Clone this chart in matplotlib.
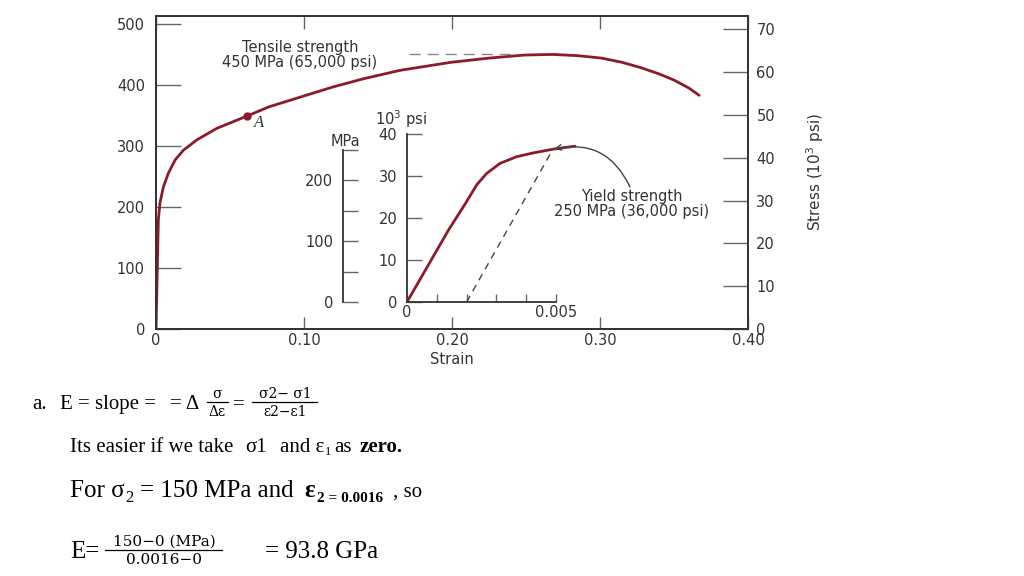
import numpy as np
import matplotlib.pyplot as plt
from matplotlib.lines import Line2D

W, H = 1024, 576

# Main stress-strain curve (strain, MPa)
strain_main = [0, 0.0008, 0.0016, 0.0027, 0.005, 0.0083, 0.0129, 0.0185, 0.0276, 0.0412,
               0.0615, 0.0762, 0.10, 0.12, 0.14, 0.165, 0.199, 0.225, 0.249, 0.268,
               0.285, 0.301, 0.315, 0.328, 0.340, 0.350, 0.360, 0.367]
stress_main = [0, 90, 179, 207, 233, 255, 277, 293, 310, 329,
               349, 364, 382, 397, 410, 424, 437, 444, 449, 450,
               448, 444, 437, 428, 418, 408, 395, 383]

# Inset: elastic region (strain, 10^3 psi)
strain_inset = [0, 0.00139, 0.0020, 0.00234, 0.00267, 0.00312, 0.00368, 0.00424, 0.00491, 0.00564]
ksi_inset = [0, 17.1, 23.9, 27.9, 30.6, 33.0, 34.6, 35.5, 36.4, 37.1]

offset_strain = [0.002, 0.0049]
offset_ksi = [0, 36.4]

point_A = (0.0615, 349)
tensile = 450
x_ticks = [0, 0.1, 0.2, 0.3, 0.4]
x_labels = ['0', '0.10', '0.20', '0.30', '0.40']
mpa_ticks = [0, 100, 200, 300, 400, 500]
psi_ticks = [0, 10, 20, 30, 40, 50, 60, 70]
inset_x_ticks = [0, 0.001, 0.002, 0.003, 0.004, 0.005]
inset_x_labels = ['0', '', '', '', '', '0.005']
inset_psi_ticks = [0, 10, 20, 30, 40]
inset_mpa_ticks = [0, 50, 100, 150, 200, 250]
inset_mpa_labels = ['0', '', '100', '', '200', '']

RED = '#8c1a2b'
INK = '#333333'
TICK = '#666666'


def fx(x):
    return x / W


def fy(y):
    return 1 - y / H


fig = plt.figure(figsize=(W / 100, H / 100), dpi=100)
plt.rcParams['font.family'] = 'DejaVu Sans'

# ---- main axes ----
ax = fig.add_axes([fx(156), fy(329), (748 - 156) / W, (329 - 16) / H])
ax.plot(strain_main, stress_main, color=RED, lw=2.0, solid_capstyle='round')
ax.plot(*point_A, 'o', color=RED, ms=5)
ax.text(point_A[0] + 0.0045, point_A[1] - 12, 'A', family='Liberation Serif',
        style='italic', fontsize=12, color=INK, va='center')
ax.plot([0.171, 0.24], [tensile, tensile], color='#888888', lw=1.0, dashes=(8, 5))
ax.set_xlim(0, 0.40)
ax.set_ylim(0, 513)
ax.set_xticks(x_ticks)
ax.set_xticklabels(x_labels)
ax.set_yticks(mpa_ticks)
ax.tick_params(axis='y', direction='in', length=18, width=1, color=TICK,
               labelsize=10.5, labelcolor=INK, pad=8)
ax.tick_params(axis='x', direction='in', length=9, width=1, color=TICK,
               labelsize=10.5, labelcolor=INK, pad=3, top=True)
for s in ax.spines.values():
    s.set_color(INK)
    s.set_linewidth(1.3)

axr = ax.twinx()
axr.set_ylim(0, 73.1)
axr.set_yticks(psi_ticks)
axr.tick_params(axis='y', direction='in', length=18, width=1, color=TICK,
                labelsize=10.5, labelcolor=INK, pad=6)
for s in axr.spines.values():
    s.set_color(INK)
    s.set_linewidth(1.3)

fig.text(fx(452), fy(360), 'Strain', ha='center', va='center', fontsize=10.5, color=INK)
fig.text(fx(815), fy(172), 'Stress (10$^3$ psi)', ha='center', va='center',
         rotation=90, fontsize=11, color=INK,
         family=['Liberation Sans Narrow', 'DejaVu Sans'])
fig.text(fx(300), fy(55), 'Tensile strength\n450 MPa (65,000 psi)', ha='center',
         va='center', fontsize=10.5, color=INK, linespacing=1.05)

# ---- inset ----
ax_in = fig.add_axes([fx(407), fy(302), 178.8 / W, 168 / H])
ax_in.patch.set_alpha(0)
ax_in.plot(strain_inset, ksi_inset, color=RED, lw=2.0, solid_capstyle='round')
ax_in.plot(offset_strain, offset_ksi, color='#444444', lw=1.0, dashes=(5, 4))
ax_in.set_xlim(0, 0.006)
ax_in.set_ylim(0, 40)
ax_in.set_xticks(inset_x_ticks)
ax_in.set_xticklabels(inset_x_labels)
ax_in.set_yticks(inset_psi_ticks)
ax_in.spines['top'].set_visible(False)
ax_in.spines['right'].set_visible(False)
ax_in.spines['bottom'].set_bounds(0, 0.005)
for s in ('left', 'bottom'):
    ax_in.spines[s].set_color(INK)
    ax_in.spines[s].set_linewidth(1.3)
ax_in.tick_params(axis='x', direction='in', length=6, width=1, color=TICK,
                  labelsize=10.5, labelcolor=INK, pad=2)
ax_in.tick_params(axis='y', direction='in', length=11, width=1, color=TICK,
                  labelsize=10.5, labelcolor=INK, pad=7)

ax_mpa = ax_in.twinx()
ax_mpa.patch.set_alpha(0)
ax_mpa.set_ylim(0, 40 * 6.895)
ax_mpa.yaxis.set_ticks_position('left')
ax_mpa.set_yticks(inset_mpa_ticks)
ax_mpa.set_yticklabels(inset_mpa_labels)
for s in ('top', 'right', 'bottom'):
    ax_mpa.spines[s].set_visible(False)
ax_mpa.spines['left'].set_visible(True)
ax_mpa.spines['left'].set_position(('outward', 64 * 72 / 100))
ax_mpa.spines['left'].set_bounds(0, 250)
ax_mpa.spines['left'].set_color(INK)
ax_mpa.spines['left'].set_linewidth(1.3)
ax_mpa.tick_params(axis='y', direction='in', length=11, width=1, color=TICK,
                   labelsize=10.5, labelcolor=INK, pad=7)

fig.text(fx(375), fy(119), '10$^3$ psi', ha='left', va='center', fontsize=10.5, color=INK)
fig.text(fx(345), fy(141), 'MPa', ha='center', va='center', fontsize=10.5, color=INK)
fig.text(fx(632), fy(204), 'Yield strength\n250 MPa (36,000 psi)', ha='center',
         va='center', fontsize=10.5, color=INK, linespacing=1.05)
ax_in.annotate('', xy=(offset_strain[1], offset_ksi[1]), xycoords='data',
               xytext=(630, H - 187), textcoords='figure pixels',
               arrowprops=dict(arrowstyle='->', color='#444444', lw=1.0,
                               connectionstyle='arc3,rad=0.4', shrinkA=0, shrinkB=1))

# ---- worked calculation below the chart ----
SERIF = 'Liberation Serif'
MATH = 'DejaVu Serif'


def t(x, y, s, size, family=SERIF, **kw):
    fig.text(fx(x), fy(y), s, fontsize=size, family=family, va='baseline',
             color='black', **kw)


def frac(xc, ybar, x0, x1, num, den, size):
    fig.text(fx(xc), fy(ybar - 4), num, ha='center', va='baseline',
             fontsize=size, family=MATH)
    fig.text(fx(xc), fy(ybar + 3), den, ha='center', va='top',
             fontsize=size, family=MATH)
    fig.add_artist(Line2D([fx(x0), fx(x1)], [fy(ybar), fy(ybar)], color='black', lw=0.9))


t(32, 409, 'a.', 15)
t(60, 409, 'E = slope =', 15)
t(170, 409, '= Δ', 15)
frac(217, 402, 207, 228, 'σ', 'Δε', 10)
t(233, 409, '=', 15)
frac(285, 402, 252, 317, 'σ2− σ1', 'ε2−ε1', 10)

t(70, 452, 'Its easier if we take', 15)
t(245, 452, 'σ1', 15)
t(280, 452, 'and ε', 15)
t(325, 455, '1', 9)
t(334, 452, 'as', 15)
t(360, 452, 'zero.', 15, weight='bold')

t(70, 497, 'For σ', 18)
t(125, 502, '2', 12)
t(140, 497, '= 150 MPa and', 18)
t(304, 497, 'ε', 18, weight='bold')
t(317, 502, '2 = 0.0016', 11, weight='bold')
t(393, 497, ', so', 15)

t(70, 558, 'E=', 18)
frac(164, 550, 105, 222, '150−0 (MPa)', '0.0016−0', 11)
t(265, 558, '= 93.8 GPa', 18)

fig.savefig('out.png', dpi=100)
